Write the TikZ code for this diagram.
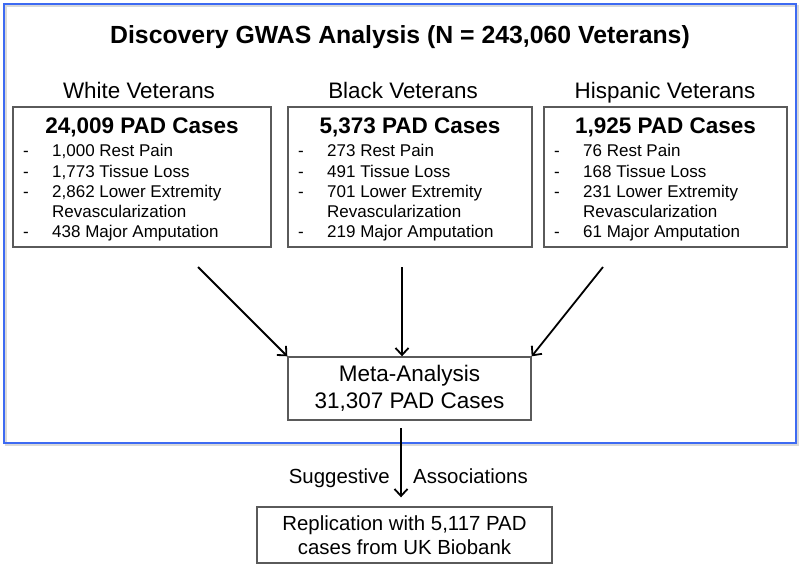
\documentclass[tikz,border=0pt]{standalone}
\usepackage{fontspec}
\setmainfont{Liberation Sans}
\usetikzlibrary{arrows.meta,positioning}

\definecolor{gwasblue}{HTML}{3D6AF2}
\definecolor{boxgray}{HTML}{5A5A5A}

\tikzset{
  grpbox/.style={draw=boxgray, line width=1.4pt, minimum height=140pt, inner sep=0pt},
  txt/.style={inner sep=0pt, anchor=base},
  item/.style={inner sep=0pt, anchor=base west, font=\fontsize{17}{20}\selectfont},
  arr/.style={-{Straight Barb[length=7pt,width=13pt,line width=1.8pt]}, line width=1.8pt},
}

\begin{document}
\begin{tikzpicture}[x=1pt,y=-1pt]
    \useasboundingbox (0,0) rectangle (800,567);

    % discovery frame
    \draw[black!15, line width=2pt] (6,6) rectangle (798,445);
    \draw[gwasblue, line width=2.6pt] (4,4) rectangle (796,443);
    \node[txt, font=\bfseries\fontsize{24.8}{28}\selectfont] (title) at (400,44) {Discovery GWAS Analysis (N = 243,060 Veterans)};

    % cohorts
    \foreach \id/\bx/\w/\hx/\grp/\tot/\rp/\tl/\lr/\ma in {
        W/142/258/139/White/{24,009}/{1,000}/{1,773}/{2,862}/438,
        B/410/244/403/Black/{5,373}/273/491/701/219,
        H/665.5/243/665/Hispanic/{1,925}/76/168/231/61} {
        \node[grpbox, minimum width=\w pt] (\id box) at (\bx,177) {};
        \node[txt, font=\fontsize{22.4}{26}\selectfont] (\id head) at (\hx,98.5) {\grp\ Veterans};
        \node[txt, font=\bfseries\fontsize{22.5}{25}\selectfont] (\id tot) at (\bx,133) {\tot\ PAD Cases};
        \node[item] (\id d1) at (\bx-\w/2+10,157) {-};
        \node[item] (\id l1) at (\bx-\w/2+39,157) {\rp\ Rest Pain};
        \node[item] (\id d2) at (\bx-\w/2+10,177) {-};
        \node[item] (\id l2) at (\bx-\w/2+39,177) {\tl\ Tissue Loss};
        \node[item] (\id d3) at (\bx-\w/2+10,197) {-};
        \node[item] (\id l3) at (\bx-\w/2+39,197) {\lr\ Lower Extremity};
        \node[item] (\id l4) at (\bx-\w/2+39,217) {Revascularization};
        \node[item] (\id d5) at (\bx-\w/2+10,237) {-};
        \node[item] (\id l5) at (\bx-\w/2+39,237) {\ma\ Major Amputation};
    }

    % meta-analysis
    \node[draw=boxgray, line width=1.4pt, minimum width=243pt, minimum height=63pt, align=center,
          font=\fontsize{22.5}{27}\selectfont] (meta) at (409.5,388.5) {Meta-Analysis\\31,307 PAD Cases};

    \coordinate (W tail) at (198,267);
    \coordinate (B tail) at (402,267);
    \coordinate (H tail) at (603,267);
    \draw[arr] (W tail) -- (meta.north west);
    \draw[arr] (B tail) -- (B tail |- meta.north);
    \draw[arr] (H tail) -- (meta.north east);

    % replication
    \node[draw=boxgray, line width=1.4pt, minimum width=295pt, minimum height=56pt, align=center,
          font=\fontsize{20.4}{23.5}\selectfont] (repl) at (404.5,535) {Replication with 5,117 PAD\\cases from UK Biobank};

    \coordinate (split) at (401,428);
    \draw[arr, shorten >=9pt] (split) -- (split |- repl.north);
    \node[txt, anchor=base east, font=\fontsize{20.4}{24}\selectfont] (sugg) at (390,483) {Suggestive};
    \node[txt, anchor=base west, font=\fontsize{20.4}{24}\selectfont] (assoc) at (413,483) {Associations};
\end{tikzpicture}
\end{document}
